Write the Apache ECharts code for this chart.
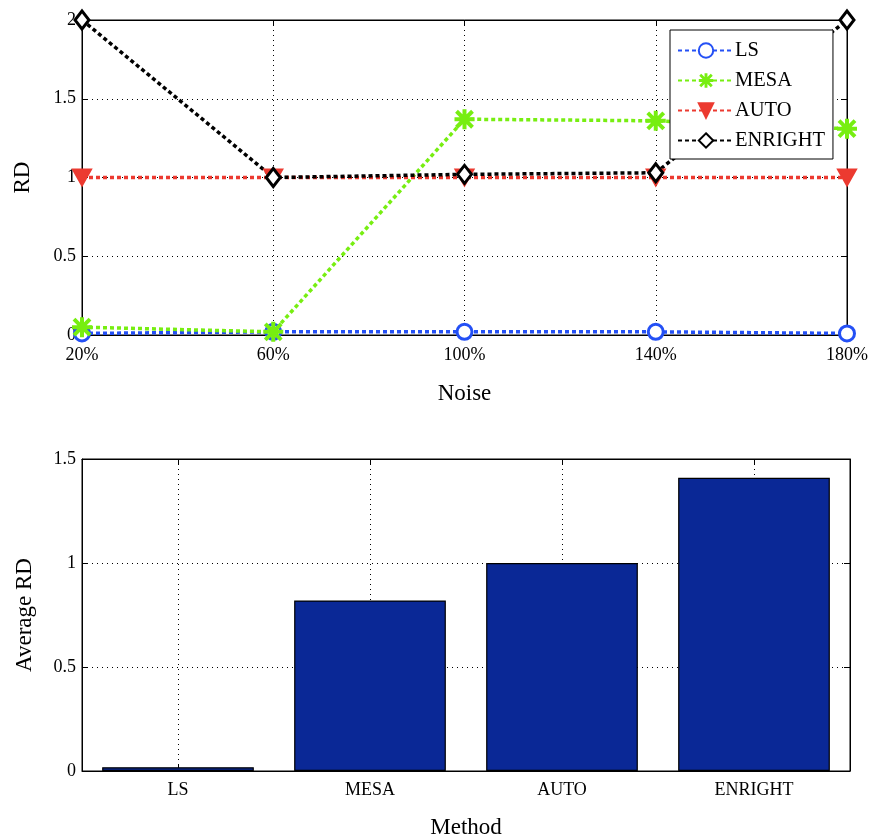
<!DOCTYPE html>
<html>
<head>
<meta charset="utf-8">
<script src="https://cdn.jsdelivr.net/npm/echarts@6/dist/echarts.min.js"></script>
<style>html,body{margin:0;padding:0;background:#fff;}#c{width:871px;height:840px;}</style>
</head>
<body>
<div id="c"></div>
<script>
const noiseLevels = ['20%', '60%', '100%', '140%', '180%'];
const lsRD = [0.01, 0.02, 0.02, 0.02, 0.01];
const mesaRD = [0.05, 0.02, 1.37, 1.36, 1.31];
const autoRD = [1.0, 1.0, 1.0, 1.0, 1.0];
const enrightRD = [2.0, 1.0, 1.02, 1.03, 2.0];
const methods = ['LS', 'MESA', 'AUTO', 'ENRIGHT'];
const averageRD = [0.018, 0.82, 1.0, 1.41];
const rdTicks = [0, 0.5, 1, 1.5, 2];

const FONT = "'Liberation Serif', 'Times New Roman', serif";
const starPath = 'path://M4,0 L6,0 L6,10 L4,10 Z M0,4 L10,4 L10,6 L0,6 Z M1.7,0.3 L9.7,8.3 L8.3,9.7 L0.3,1.7 Z M8.3,0.3 L9.7,1.7 L1.7,9.7 L0.3,8.3 Z';
const triPath = 'path://M0,0 L10,0 L5,9 Z';
const diaPath = 'path://M5,0 L10,6 L5,12 L0,6 Z';

const tickLabel = {color: '#000', fontFamily: FONT, fontSize: 18};
const dotted = {show: true, lineStyle: {color: '#000', type: [1, 4], width: 1}};
const axisLine = {show: true, onZero: false, lineStyle: {color: '#000', width: 1}};
const tickIn = {show: true, inside: true, length: 6, lineStyle: {color: '#000'}};

function lineSeries(name, data, color, symbol, size, fill, border) {
  return {
    name, type: 'line', data, xAxisIndex: 0, yAxisIndex: 0,
    symbol, symbolSize: size, clip: false,
    lineStyle: {color, width: 3.5, type: [4, 3]},
    itemStyle: {color: fill, borderColor: color, borderWidth: border},
    emphasis: {disabled: true}
  };
}

const chart = echarts.init(document.getElementById('c'), null, {renderer: 'canvas'});
chart.setOption({
  animation: false,
  backgroundColor: '#fff',
  grid: [
    {left: 82, top: 20, right: 21, height: 315, show: true, borderColor: '#000', borderWidth: 1, backgroundColor: 'transparent'},
    {left: 82, top: 459, right: 21, height: 313, show: true, borderColor: '#000', borderWidth: 1, backgroundColor: 'transparent'}
  ],
  legend: {
    data: ['LS', 'MESA', 'AUTO', 'ENRIGHT'],
    orient: 'vertical', left: 670, top: 30,
    padding: [10, 8, 8, 7],
    itemWidth: 56, itemHeight: 18, itemGap: 9,
    backgroundColor: '#fff', borderColor: '#000', borderWidth: 1,
    textStyle: {color: '#000', fontFamily: FONT, fontSize: 20.5, padding: [0, 0, 0, -4]},
    selectedMode: false
  },
  xAxis: [
    {
      gridIndex: 0, type: 'category', data: noiseLevels, boundaryGap: false,
      name: 'Noise', nameLocation: 'middle', nameGap: 47,
      nameTextStyle: {color: '#000', fontFamily: FONT, fontSize: 23},
      axisLine, axisTick: tickIn, axisLabel: Object.assign({margin: 11}, tickLabel),
      splitLine: dotted
    },
    {
      gridIndex: 0, type: 'category', data: noiseLevels, boundaryGap: false, position: 'top',
      axisLine, axisTick: tickIn, axisLabel: {show: false}, splitLine: {show: false}
    },
    {
      gridIndex: 1, type: 'category', data: methods, boundaryGap: true,
      name: 'Method', nameLocation: 'middle', nameGap: 45,
      nameTextStyle: {color: '#000', fontFamily: FONT, fontSize: 23},
      axisLine, axisTick: Object.assign({alignWithLabel: true}, tickIn),
      axisLabel: Object.assign({margin: 10}, tickLabel),
      splitLine: Object.assign({alignWithLabel: true}, dotted)
    },
    {
      gridIndex: 1, type: 'category', data: methods, boundaryGap: true, position: 'top',
      axisLine, axisTick: Object.assign({alignWithLabel: true}, tickIn), axisLabel: {show: false}, splitLine: {show: false}
    }
  ],
  yAxis: [
    {
      gridIndex: 0, type: 'value', min: rdTicks[0], max: rdTicks[rdTicks.length - 1], interval: 0.5,
      name: 'RD', nameLocation: 'middle', nameGap: 48,
      nameTextStyle: {color: '#000', fontFamily: FONT, fontSize: 23},
      axisLine, axisTick: tickIn, axisLabel: Object.assign({margin: 6}, tickLabel),
      splitLine: dotted
    },
    {
      gridIndex: 0, type: 'value', min: 0, max: 2, interval: 0.5, position: 'right',
      axisLine, axisTick: tickIn, axisLabel: {show: false}, splitLine: {show: false}
    },
    {
      gridIndex: 1, type: 'value', min: 0, max: 1.5, interval: 0.5,
      name: 'Average RD', nameLocation: 'middle', nameGap: 46,
      nameTextStyle: {color: '#000', fontFamily: FONT, fontSize: 23},
      axisLine, axisTick: tickIn, axisLabel: Object.assign({margin: 6}, tickLabel),
      splitLine: dotted
    },
    {
      gridIndex: 1, type: 'value', min: 0, max: 1.5, interval: 0.5, position: 'right',
      axisLine, axisTick: tickIn, axisLabel: {show: false}, splitLine: {show: false}
    }
  ],
  series: [
    lineSeries('LS', lsRD, '#2450f5', 'circle', 15, '#fff', 3),
    lineSeries('MESA', mesaRD, '#77ee11', starPath, 20, '#77ee11', 0),
    lineSeries('AUTO', autoRD, '#ec3a30', triPath, [18, 16], '#ec3a30', 2),
    lineSeries('ENRIGHT', enrightRD, '#000000', diaPath, [14, 18], '#fff', 3),
    {
      name: 'Average RD', type: 'bar', data: averageRD, xAxisIndex: 2, yAxisIndex: 2,
      barWidth: '79%',
      itemStyle: {color: '#0a2896', borderColor: '#000', borderWidth: 1.2},
      emphasis: {disabled: true}
    }
  ]
});
</script>
</body>
</html>
